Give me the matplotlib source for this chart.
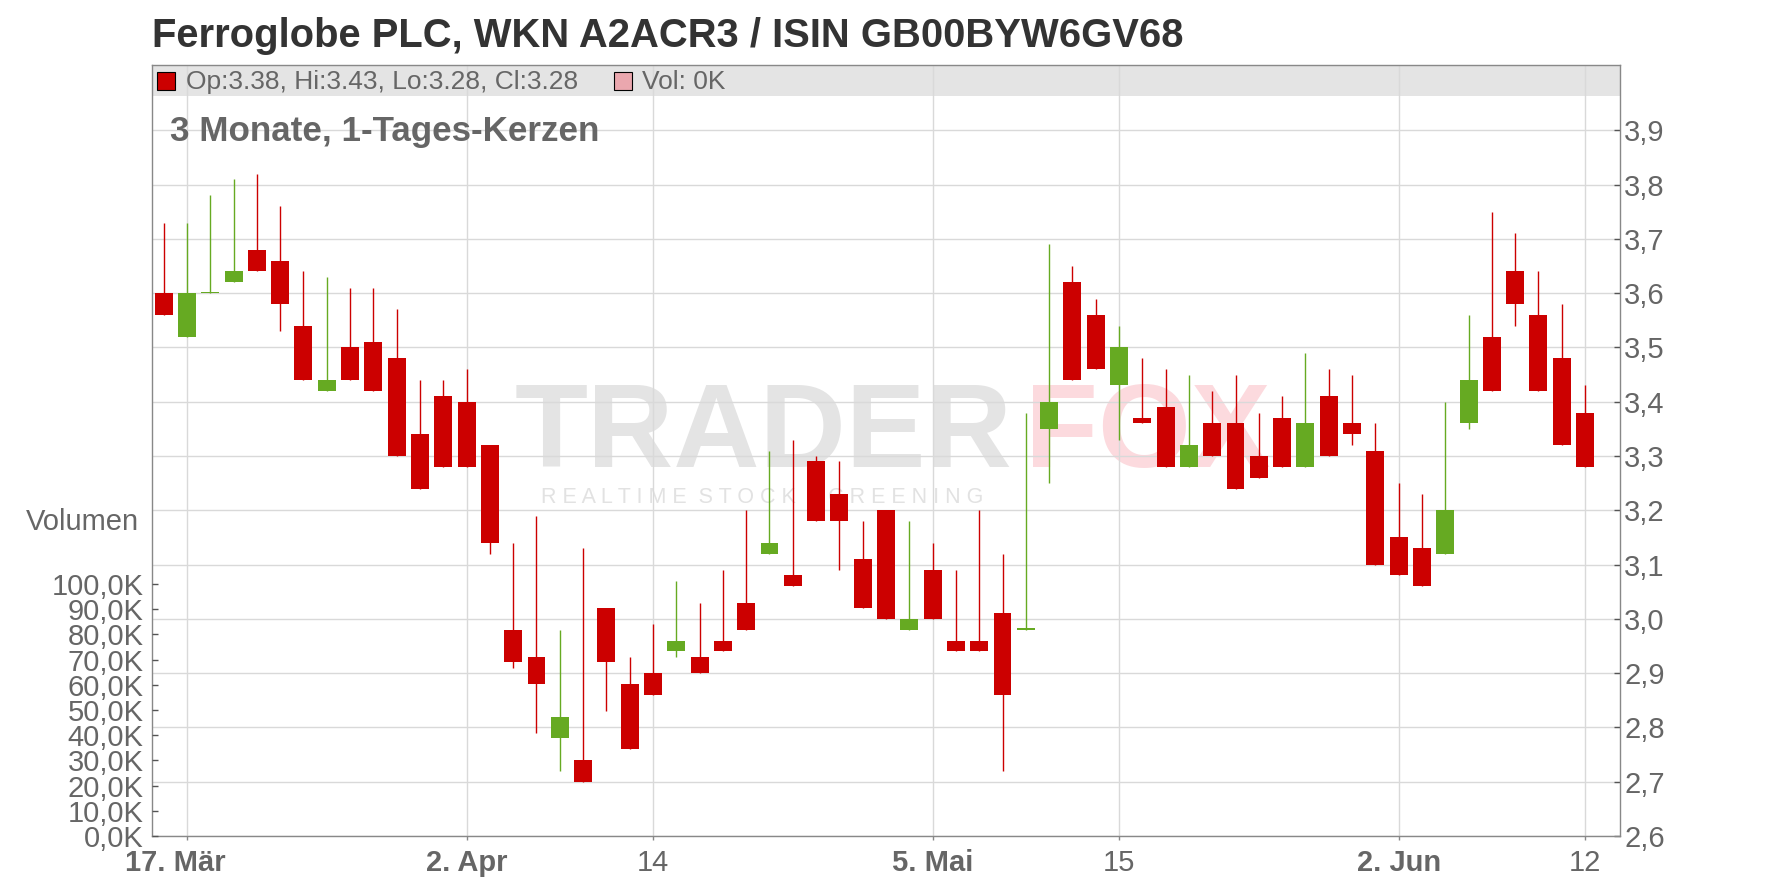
import numpy as np
import matplotlib.pyplot as plt
import matplotlib.transforms as mtransforms
from matplotlib.patches import Rectangle

plt.rcParams['font.family'] = ['Liberation Sans', 'DejaVu Sans']

# daily candles, 14.03. - 12.06.
dates = ['14.03.', '17.03.', '18.03.', '19.03.', '20.03.', '21.03.', '24.03.', '25.03.', '26.03.', '27.03.',
         '28.03.', '31.03.', '01.04.', '02.04.', '03.04.', '04.04.', '07.04.', '08.04.', '09.04.', '10.04.',
         '11.04.', '14.04.', '15.04.', '16.04.', '17.04.', '22.04.', '23.04.', '24.04.', '25.04.', '28.04.',
         '29.04.', '30.04.', '02.05.', '05.05.', '06.05.', '07.05.', '08.05.', '09.05.', '12.05.', '13.05.',
         '14.05.', '15.05.', '16.05.', '19.05.', '20.05.', '21.05.', '22.05.', '23.05.', '26.05.', '27.05.',
         '28.05.', '29.05.', '30.05.', '02.06.', '03.06.', '04.06.', '05.06.', '06.06.', '09.06.', '10.06.',
         '11.06.', '12.06.']
opens = [3.60, 3.52, 3.60, 3.62, 3.68, 3.66, 3.54, 3.42, 3.50, 3.51,
         3.48, 3.34, 3.41, 3.40, 3.32, 2.98, 2.93, 2.78, 2.74, 3.02,
         2.88, 2.90, 2.94, 2.93, 2.96, 3.03, 3.12, 3.08, 3.29, 3.23,
         3.11, 3.20, 2.98, 3.09, 2.96, 2.96, 3.01, 2.98, 3.35, 3.62,
         3.56, 3.43, 3.37, 3.39, 3.28, 3.36, 3.36, 3.30, 3.37, 3.28,
         3.41, 3.36, 3.31, 3.15, 3.13, 3.12, 3.36, 3.52, 3.64, 3.56,
         3.48, 3.38]
highs = [3.73, 3.73, 3.78, 3.81, 3.82, 3.76, 3.64, 3.63, 3.61, 3.61,
         3.57, 3.44, 3.44, 3.46, 3.32, 3.14, 3.19, 2.98, 3.13, 3.02,
         2.93, 2.99, 3.07, 3.03, 3.09, 3.20, 3.31, 3.33, 3.30, 3.29,
         3.18, 3.20, 3.18, 3.14, 3.09, 3.20, 3.12, 3.38, 3.69, 3.65,
         3.59, 3.54, 3.48, 3.46, 3.45, 3.42, 3.45, 3.38, 3.41, 3.49,
         3.46, 3.45, 3.36, 3.25, 3.23, 3.40, 3.56, 3.75, 3.71, 3.64,
         3.58, 3.43]
lows = [3.56, 3.52, 3.60, 3.62, 3.64, 3.53, 3.44, 3.42, 3.44, 3.42,
        3.30, 3.24, 3.28, 3.28, 3.12, 2.91, 2.79, 2.72, 2.70, 2.83,
        2.76, 2.86, 2.93, 2.90, 2.94, 2.98, 3.12, 3.06, 3.18, 3.09,
        3.02, 3.00, 2.98, 3.00, 2.94, 2.94, 2.72, 2.98, 3.25, 3.44,
        3.46, 3.33, 3.36, 3.28, 3.28, 3.30, 3.24, 3.26, 3.28, 3.28,
        3.30, 3.32, 3.10, 3.08, 3.06, 3.12, 3.35, 3.42, 3.54, 3.42,
        3.32, 3.28]
closes = [3.56, 3.60, 3.60, 3.64, 3.64, 3.58, 3.44, 3.44, 3.44, 3.42,
          3.30, 3.24, 3.28, 3.28, 3.14, 2.92, 2.88, 2.82, 2.70, 2.92,
          2.76, 2.86, 2.96, 2.90, 2.94, 2.98, 3.14, 3.06, 3.18, 3.18,
          3.02, 3.00, 3.00, 3.00, 2.94, 2.94, 2.86, 2.98, 3.40, 3.44,
          3.46, 3.50, 3.36, 3.28, 3.32, 3.30, 3.24, 3.26, 3.28, 3.36,
          3.30, 3.34, 3.10, 3.08, 3.06, 3.20, 3.44, 3.42, 3.58, 3.42,
          3.32, 3.28]
volumes = [0] * len(dates)

tick_dates = ['17.03.', '02.04.', '14.04.', '05.05.', '15.05.', '02.06.', '12.06.']
tick_labels = ['17. Mär', '2. Apr', '14', '5. Mai', '15', '2. Jun', '12']
tick_bold = [True, True, False, True, False, True, False]
price_ticks = [2.6, 2.7, 2.8, 2.9, 3.0, 3.1, 3.2, 3.3, 3.4, 3.5, 3.6, 3.7, 3.8, 3.9]
vol_ticks = [0, 10000, 20000, 30000, 40000, 50000, 60000, 70000, 80000, 90000, 100000]

title = 'Ferroglobe PLC, WKN A2ACR3 / ISIN GB00BYW6GV68'
subtitle = '3 Monate, 1-Tages-Kerzen'

RED = '#cc0000'
GREEN = '#66aa22'
GRID = '#d9d9d9'
FRAME = '#888888'
TXT = '#666666'
LABEL_SIZE = 21

W, H = 1776, 888
fig = plt.figure(figsize=(W / 100, H / 100), dpi=100)
ax = fig.add_axes([152 / W, 1 - 836 / H, (1620 - 152) / W, (836 - 65) / H])

x = np.arange(len(dates))
o = np.array(opens)
c = np.array(closes)
up = c >= o
colors = np.where(up, GREEN, RED)

ax.vlines(x, lows, highs, colors=colors, linewidth=1.0, zorder=3)
bottoms = np.minimum(o, c)
heights = np.maximum(np.abs(c - o), 0.003)
ax.bar(x, heights, bottom=bottoms, width=0.77, color=colors, linewidth=0, zorder=4)

ax.set_xlim(-0.5, 62.5)
ax.set_ylim(2.6, 4.0203)

tick_pos = [dates.index(d) for d in tick_dates]
ax.set_xticks(tick_pos)
ax.set_xticklabels(tick_labels)
for lab, b in zip(ax.get_xticklabels(), tick_bold):
    lab.set_fontweight('bold' if b else 'normal')
ax.tick_params(axis='x', direction='out', length=3, width=1, color=FRAME,
               labelsize=LABEL_SIZE, labelcolor=TXT, pad=6)
# first date label sits a bit left of its tick
first = ax.get_xticklabels()[0]
first.set_transform(first.get_transform() + mtransforms.ScaledTranslation(-12 / 100, 0, fig.dpi_scale_trans))

ax.grid(True, color=GRID, linewidth=1.0)
ax.set_axisbelow(True)
for s in ax.spines.values():
    s.set_color(FRAME)
    s.set_linewidth(1.0)

# legend band at top of the plot
band_y = (836 - 96) / (836 - 65)
ax.add_patch(Rectangle((0, band_y), 1, 1 - band_y, transform=ax.transAxes,
                       facecolor='#e4e4e4', edgecolor='none', zorder=0.2))

# watermark
ax.text(515 / W, 1 - 436 / H, 'TRADER', transform=fig.transFigure, fontsize=86,
        fontweight='bold', color='#e4e4e4', ha='left', va='center', zorder=0.3)
ax.text(1025 / W, 1 - 436 / H, 'FOX', transform=fig.transFigure, fontsize=86,
        fontweight='bold', color='#fcdade', ha='left', va='center', zorder=0.3)
ax.text(762 / W, 1 - 497 / H, '  '.join(' '.join(w) for w in 'REALTIME STOCK SCREENING'.split()),
        transform=fig.transFigure, fontsize=15.5, color='#e2e2e2', ha='center', va='center', zorder=0.3)

# volume axis (left)
axv = ax.twinx()
axv.bar(x, volumes, width=0.77, color='#e8a2aa', zorder=2)
axv.set_ylim(0, 305950)
axv.yaxis.tick_left()
axv.set_yticks(vol_ticks)
axv.set_yticklabels([('%.1fK' % (v / 1000)).replace('.', ',') for v in vol_ticks])
axv.tick_params(axis='y', direction='in', length=4, width=1, color='#555555',
                labelsize=LABEL_SIZE, labelcolor=TXT, pad=6)
for s in axv.spines.values():
    s.set_visible(False)

# price axis (right), set after twinx
ax.yaxis.tick_right()
ax.set_yticks(price_ticks)
ax.set_yticklabels([('%.1f' % p).replace('.', ',') for p in price_ticks])
ax.tick_params(axis='y', direction='in', length=4, width=1, color='#555555',
               labelsize=LABEL_SIZE, labelcolor=TXT, pad=3)

fig.text(139 / W, 1 - 522 / H, 'Volumen', fontsize=LABEL_SIZE, color=TXT, ha='right', va='center')

fig.text(152 / W, 1 - 47 / H, title, fontsize=28.8, fontweight='bold', color='#333333',
         ha='left', va='baseline')
fig.text(170 / W, 1 - 141 / H, subtitle, fontsize=25.2, fontweight='bold', color=TXT,
         ha='left', va='baseline')

# legend entries
fig.patches.append(Rectangle((157 / W, 1 - 90 / H), 18 / W, 18 / H, transform=fig.transFigure,
                             facecolor=RED, edgecolor='black', linewidth=0.8))
fig.text(186 / W, 1 - 82 / H, 'Op:%.2f, Hi:%.2f, Lo:%.2f, Cl:%.2f' % (opens[-1], highs[-1], lows[-1], closes[-1]),
         fontsize=19, color=TXT, ha='left', va='center')
fig.patches.append(Rectangle((614 / W, 1 - 90 / H), 18 / W, 18 / H, transform=fig.transFigure,
                             facecolor='#eaa7ae', edgecolor='black', linewidth=0.8))
fig.text(642 / W, 1 - 82 / H, 'Vol: %dK' % (volumes[-1] / 1000), fontsize=19, color=TXT,
         ha='left', va='center')

fig.savefig('out.png', dpi=100)
